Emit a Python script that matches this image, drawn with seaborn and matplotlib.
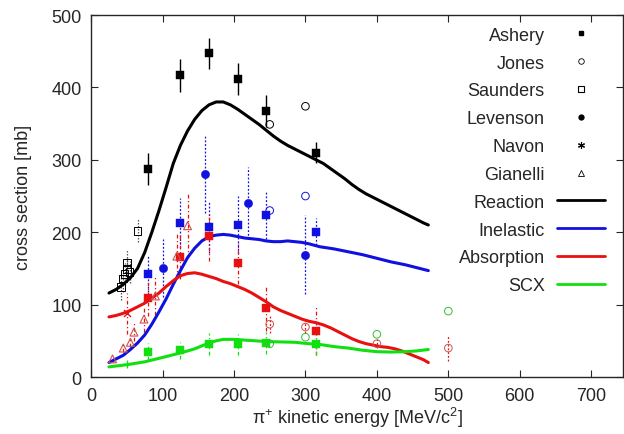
import matplotlib
matplotlib.use("Agg")
import matplotlib.pyplot as plt
import seaborn as sns
from matplotlib.lines import Line2D

# ---------------- data ----------------
# model curves
reac_x = [25, 35, 45, 55, 65, 75, 85, 95, 105, 115, 125, 135, 145, 155, 165, 175, 185, 195,
          205, 215, 225, 235, 245, 255, 265, 275, 285, 295, 305, 315, 325, 335, 345, 355,
          365, 375, 385, 395, 405, 415, 425, 435, 445, 455, 465, 472]
reac_y = [116, 121, 128, 137, 150, 172, 200, 230, 262, 295, 320, 340, 356, 368, 376, 380, 380, 376,
          370, 363, 356, 349, 341, 333, 326, 320, 315, 310, 305, 300, 295, 288, 281, 274,
          266, 259, 253, 248, 243, 238, 233, 228, 223, 218, 213, 210]
inel_x = [25, 35, 45, 55, 65, 75, 85, 95, 105, 115, 125, 135, 145, 155, 165, 175, 185, 195,
          205, 215, 225, 235, 245, 255, 265, 275, 285, 295, 305, 320, 340, 360, 380, 400,
          420, 440, 460, 472]
inel_y = [20, 25, 30, 38, 47, 58, 73, 90, 108, 128, 147, 165, 178, 188, 194, 196, 197, 196,
          194, 192, 191, 190, 188, 187, 187, 188, 187, 186, 184, 180, 177, 173, 169, 164,
          159, 155, 150, 147]
abs_x = [25, 35, 45, 55, 65, 75, 85, 95, 105, 115, 125, 135, 145, 155, 165, 175, 185, 195,
         205, 215, 225, 235, 245, 255, 265, 275, 285, 295, 305, 315, 325, 335, 345, 355,
         365, 375, 385, 395, 405, 415, 425, 435, 445, 455, 465, 472]
abs_y = [83, 85, 88, 92, 97, 102, 109, 116, 125, 133, 140, 143, 144, 142, 139, 136, 132, 129,
         125, 121, 116, 110, 104, 97, 92, 88, 84, 80, 77, 75, 72, 68, 63, 58,
         53, 49, 46, 44, 42, 41, 39, 36, 32, 28, 24, 20]
scx_x = [25, 50, 75, 100, 120, 135, 145, 155, 165, 175, 185, 200, 215, 230, 245, 265, 285,
         305, 320, 340, 360, 380, 400, 420, 440, 455, 472]
scx_y = [14, 17, 21, 27, 32, 36, 39, 43, 47, 50, 52, 52, 51, 50, 49, 48.5, 48,
         46, 45, 42, 40, 37, 35, 34.5, 35, 36, 38]

# Ashery
ash_x = [80, 125, 165, 205, 245, 315]
ash_reac = [287, 417, 447, 412, 367, 310]
ash_reac_err = [22, 23, 22, 22, 22, 15]
ash_inel = [143, 213, 207, 210, 224, 201]
ash_inel_err = [25, 35, 35, 40, 33, 19]
ash_abs = [109, 166, 195, 157, 95, 64]
ash_abs_err = [25, 30, 35, 28, 32, 33]
ash_scx = [35, 37, 46, 45, 47, 45]
ash_scx_err = [12, 12, 15, 15, 15, 15]

# Jones
jon_reac_x = [250, 300]
jon_reac = [349, 374]
jon_inel_x = [250, 300]
jon_inel = [230, 250]
jon_abs_x = [250, 300, 400, 500]
jon_abs = [73, 69, 46, 40]
jon_abs_err = [12, 8, 6, 18]
jon_scx_x = [250, 300, 400, 500]
jon_scx = [46, 55, 59, 91]

# Saunders
sau_x = [42, 45, 47, 50, 50, 54, 65]
sau_y = [124, 136, 142, 149, 158, 145, 202]
sau_err = [18, 18, 15, 15, 18, 15, 16]

# Levenson
lev_x = [100, 160, 220, 300]
lev_y = [150, 280, 240, 169]
lev_err = [40, 53, 50, 55]

# Navon
nav_abs_x = [50.5]
nav_abs = [88]
nav_abs_err = [28]
nav_scx_x = [50.5]
nav_scx = [18]

# Gianelli
gia_x = [30, 45, 55, 60, 74, 90, 120, 135]
gia_y = [25, 40, 48, 62, 80, 112, 167, 209]
gia_err = [4, 5, 6, 12, 18, 27, 30, 45]

labels = ["Ashery", "Jones", "Saunders", "Levenson", "Navon", "Gianelli",
          "Reaction", "Inelastic", "Absorption", "SCX"]

# ---------------- style ----------------
sns.set_style("ticks")
plt.rcParams['font.family'] = ['Liberation Sans', 'DejaVu Sans']
plt.rcParams['mathtext.fontset'] = 'custom'
plt.rcParams['mathtext.rm'] = 'Liberation Sans'
plt.rcParams['mathtext.it'] = 'Liberation Sans:italic'

fig = plt.figure(figsize=(6.24, 4.35), dpi=100)
ax = fig.add_axes([0.146, 0.131, 0.853, 0.832])

BLACK = "black"
BLUE = "#1010e0"
RED = "#e81010"
GREEN = "#10e010"
PALERED = "#d05050"

def errs(x, y, e, color, ls, lw=0.9):
    ax.errorbar(x, y, yerr=e, fmt="none", ecolor=color, elinewidth=lw,
                capsize=0, zorder=2)
    ax.collections[-1].set_linestyle(ls)

# error bars
errs(ash_x, ash_reac, ash_reac_err, BLACK, "-", 1.0)
errs(ash_x, ash_inel, ash_inel_err, BLUE, (0, (1.5, 1.5)))
errs(ash_x, ash_abs, ash_abs_err, RED, (0, (3, 2, 1, 2)))
errs(ash_x, ash_scx, ash_scx_err, GREEN, (0, (3, 2, 1, 2)))
errs(lev_x, lev_y, lev_err, BLUE, (0, (1.5, 1.5)))
errs(sau_x, sau_y, sau_err, "#555555", (0, (1.2, 1.2)))
errs(gia_x, gia_y, gia_err, RED, (0, (3, 2, 1, 2)))
errs(jon_abs_x, jon_abs, jon_abs_err, RED, (0, (1.5, 1.5)))
errs(nav_abs_x, nav_abs, nav_abs_err, RED, (0, (3, 2, 1, 2)))

# model curves
for xs, ys, col in [(reac_x, reac_y, BLACK), (inel_x, inel_y, BLUE),
                    (abs_x, abs_y, RED), (scx_x, scx_y, GREEN)]:
    sns.lineplot(x=xs, y=ys, color=col, linewidth=2.2, ax=ax, zorder=3)

# Ashery squares
for ys, col in [(ash_reac, BLACK), (ash_inel, BLUE), (ash_abs, RED), (ash_scx, GREEN)]:
    sns.scatterplot(x=ash_x, y=ys, marker="s", s=30, color=col, edgecolor=col,
                    linewidth=0.3, ax=ax, zorder=4)

# Jones open circles
for xs, ys, col in [(jon_reac_x, jon_reac, BLACK), (jon_inel_x, jon_inel, BLUE),
                    (jon_abs_x, jon_abs, PALERED), (jon_scx_x, jon_scx, "#30c030")]:
    sns.scatterplot(x=xs, y=ys, marker="o", s=30, facecolor="none", edgecolor=col,
                    linewidth=0.7, ax=ax, zorder=4)

# Saunders open squares
sns.scatterplot(x=sau_x, y=sau_y, marker="s", s=30, facecolor="none", edgecolor=BLACK,
                linewidth=0.7, ax=ax, zorder=4)

# Levenson filled circles
sns.scatterplot(x=lev_x, y=lev_y, marker="o", s=36, color=BLUE, edgecolor=BLUE,
                linewidth=0.3, ax=ax, zorder=4)

# Navon asterisks
sns.scatterplot(x=nav_abs_x, y=nav_abs, marker="x", s=25, color=RED, linewidth=1.0, ax=ax, zorder=4)
sns.scatterplot(x=nav_scx_x, y=nav_scx, marker="+", s=30, color=GREEN, linewidth=1.0, ax=ax, zorder=4)

# Gianelli triangles
sns.scatterplot(x=gia_x, y=gia_y, marker="^", s=32, facecolor="none", edgecolor=PALERED,
                linewidth=0.8, ax=ax, zorder=4)

# axes
ax.set_xlim(0, 745)
ax.set_ylim(0, 500)
ax.set_xticks(range(0, 701, 100))
ax.set_yticks(range(0, 501, 100))
ax.tick_params(direction="in", top=True, right=True, labelsize=13, length=5,
               width=0.8, pad=7)
for sp in ax.spines.values():
    sp.set_linewidth(1.0)
    sp.set_visible(True)
ax.set_xlabel("π$^{+}$ kinetic energy [MeV/c$^{2}$]", fontsize=13, labelpad=1)
ax.set_ylabel("cross section [mb]", fontsize=13, labelpad=14)

# legend
handles = [
    Line2D([], [], ls="none", marker="s", ms=3.5, color="black"),
    Line2D([], [], ls="none", marker="o", ms=4, mfc="none", mec="black", mew=0.6),
    Line2D([], [], ls="none", marker="s", ms=4.5, mfc="none", mec="black", mew=0.8),
    Line2D([], [], ls="none", marker="o", ms=3.5, color="black"),
    Line2D([], [], ls="none", marker=(6, 2, 0), ms=5, color="black", mew=0.8),
    Line2D([], [], ls="none", marker="^", ms=4.5, mfc="none", mec="black", mew=0.6),
    Line2D([], [], color=BLACK, lw=2),
    Line2D([], [], color=BLUE, lw=2),
    Line2D([], [], color=RED, lw=2),
    Line2D([], [], color=GREEN, lw=2),
]
leg = ax.legend(handles, labels, loc="upper right", bbox_to_anchor=(0.966, 0.968),
                frameon=False, markerfirst=False, fontsize=13, handlelength=2.7,
                handletextpad=0.65, labelspacing=0.6, borderpad=0, borderaxespad=0)

fig.savefig("out.png", dpi=100)
